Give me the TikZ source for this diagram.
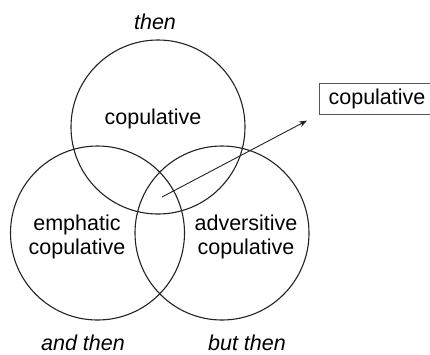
\documentclass[tikz,border=0pt]{standalone}
\usepackage{fontspec}
\setmainfont{Liberation Sans}
\usepackage{xcolor}
\usepackage{tikz}
\usetikzlibrary{arrows.meta, positioning}
\definecolor{linegray}{HTML}{222222}
\definecolor{boxgray}{HTML}{555555}
\tikzset{
    vennset/.style={
        circle,
        draw=linegray,
        line width=1.1pt,
        minimum size=174pt,
        inner sep=0pt
    },
    setlabel/.style={
        align=center,
        font=\fontsize{21.5}{23.5}\selectfont
    },
    connective/.style={
        font=\fontsize{21.5}{23.5}\selectfont\itshape
    },
    outbox/.style={
        rectangle,
        draw=boxgray,
        line width=1pt,
        minimum width=116pt,
        minimum height=31pt,
        font=\fontsize{21.5}{23.5}\selectfont
    },
    arrow/.style={
        -{Stealth[length=8pt, width=6pt]},
        line width=0.9pt,
        draw=linegray
    }
}

\begin{document}
\begin{tikzpicture}[x=1pt, y=-1pt]
    \useasboundingbox (0,0) rectangle (430,354);
    \node[vennset] (topset) at (158,127) {};
    \node[vennset] (leftset) at (97.5,233) {};
    \node[vennset] (rightset) at (222,233) {};

    \node[setlabel] (toptext) at (153,119) {copulative};
    \node[setlabel] (lefttext) at (77,237) {emphatic\\copulative};
    \node[setlabel] (righttext) at (246,237) {adversitive\\copulative};

    \node[connective] (then) at (155,22) {then};
    \node[connective] (andthen) at (83,343) {and then};
    \node[connective] (butthen) at (247,343) {but then};

    \node[outbox] (result) at (377,98.5) {copulative};
    \coordinate (core) at (162,197);

    \draw[arrow, shorten >=13pt] (core) -- (result.south west);
\end{tikzpicture}
\end{document}
